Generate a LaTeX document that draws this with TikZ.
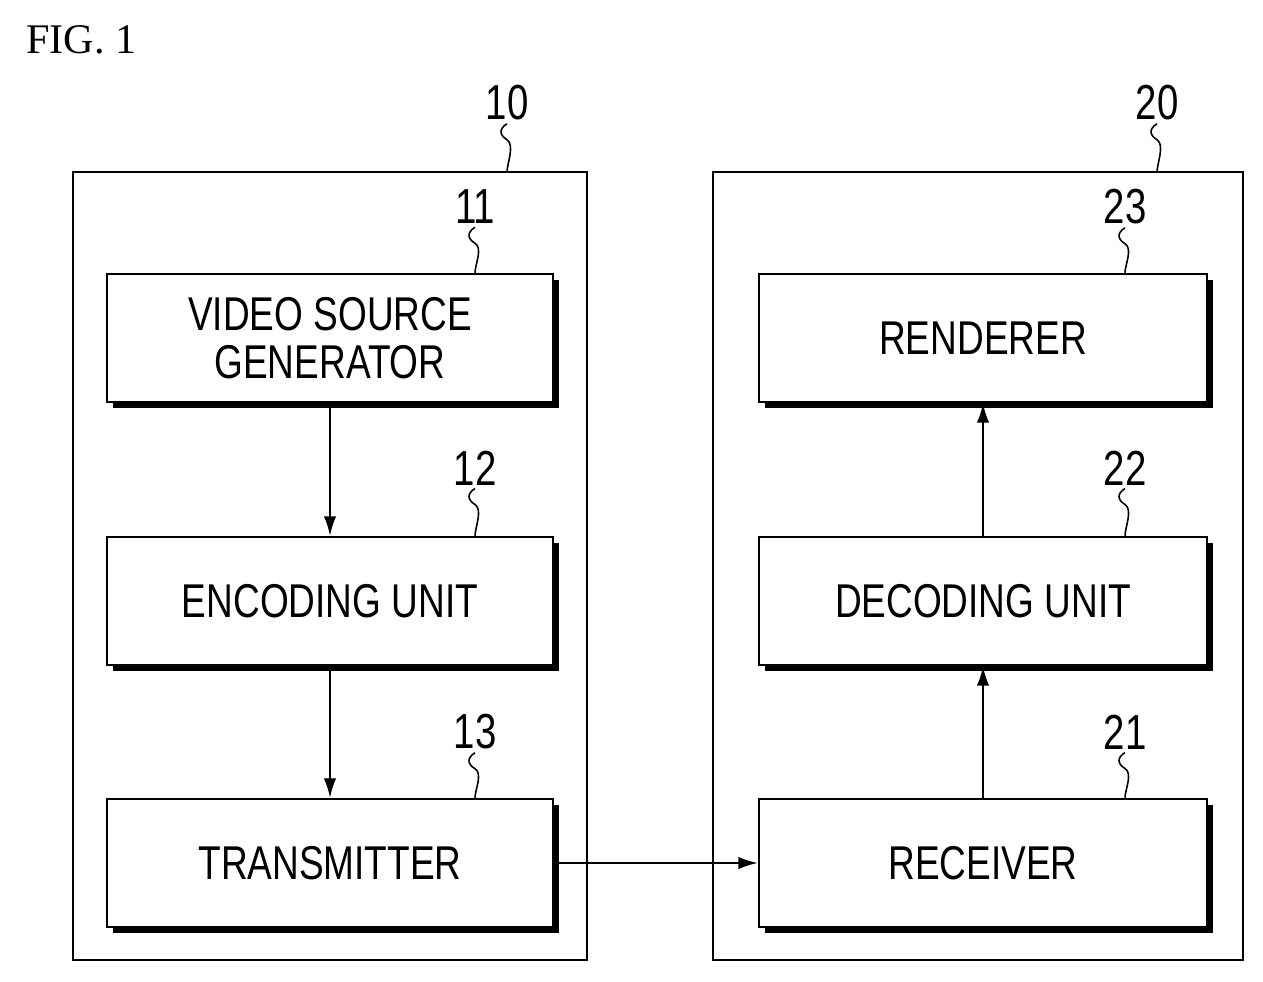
\documentclass[tikz,border=0pt]{standalone}
\usepackage{fontspec}
\setmainfont{Liberation Serif}
\newfontfamily\boxfont[FakeStretch=0.78]{Liberation Sans}
\usetikzlibrary{shadows, arrows.meta, positioning}

\tikzset{
  block/.style={draw, line width=1.4pt, fill=white, font=\boxfont\fontsize{27}{31}\selectfont,
    align=center, minimum width=446*0.02cm, minimum height=128*0.02cm, inner sep=0pt,
    drop shadow={shadow xshift=3.5pt, shadow yshift=-3.5pt, fill=black, opacity=1}},
  frame/.style={draw, line width=1.4pt},
  flow/.style={-{Latex[length=11pt,width=7pt]}, line width=1.1pt},
  num/.style={font=\boxfont\fontsize{28}{30}\selectfont, inner sep=0pt}
}
\newcommand{\leader}[2]{% label node, top edge it points to
  \draw[line width=0.9pt] ([yshift=-3*0.02cm]#1.south) .. controls +(-8,5) and +(-8,-5) .. ++(0,16)
    .. controls +(8,5) and +(0,-8) .. (#1.south |- #2);}

\begin{document}
\begin{tikzpicture}[x=0.02cm, y=-0.02cm]
  \useasboundingbox (0,0) rectangle (1263,982);
  \node[anchor=west, font=\fontsize{24}{26}\selectfont] (fig) at (20,40) {FIG. 1};
  % devices
  \draw[frame] (73,172) rectangle (587,960);
  \draw[frame] (713,172) rectangle (1243,960);
  \coordinate (tx_c) at (510,172);
  \coordinate (rx_c) at (1160,172);
  \node[num] (n10) at (507,103) {10};
  \node[num] (n20) at (1157,103) {20};
  % sender
  \node[block] (vsg) at (330,338) {VIDEO SOURCE\\[-4pt]GENERATOR};
  \node[block] (enc) at (330,601) {ENCODING UNIT};
  \node[block] (trn) at (330,863) {TRANSMITTER};
  % receiver
  \node[block, minimum width=448*0.02cm] (ren) at (983,338) {RENDERER};
  \node[block, minimum width=448*0.02cm] (dec) at (983,601) {DECODING UNIT};
  \node[block, minimum width=448*0.02cm] (rcv) at (983,863) {RECEIVER};
  \node[num] (n11) at (475,207) {11};
  \node[num] (n12) at (475,468) {12};
  \node[num] (n13) at (475,732) {13};
  \node[num] (n23) at (1125,207) {23};
  \node[num] (n22) at (1125,468) {22};
  \node[num] (n21) at (1125,732) {21};
  \leader{n10}{tx_c}
  \leader{n20}{rx_c}
  \leader{n11}{vsg.north}
  \leader{n12}{enc.north}
  \leader{n13}{trn.north}
  \leader{n23}{ren.north}
  \leader{n22}{dec.north}
  \leader{n21}{rcv.north}
  \draw[flow] (vsg) -- (enc);
  \draw[flow] (enc) -- (trn);
  \draw[flow] (rcv) -- (dec);
  \draw[flow] (dec) -- (ren);
  \draw[flow] (trn) -- (rcv);
\end{tikzpicture}
\end{document}
